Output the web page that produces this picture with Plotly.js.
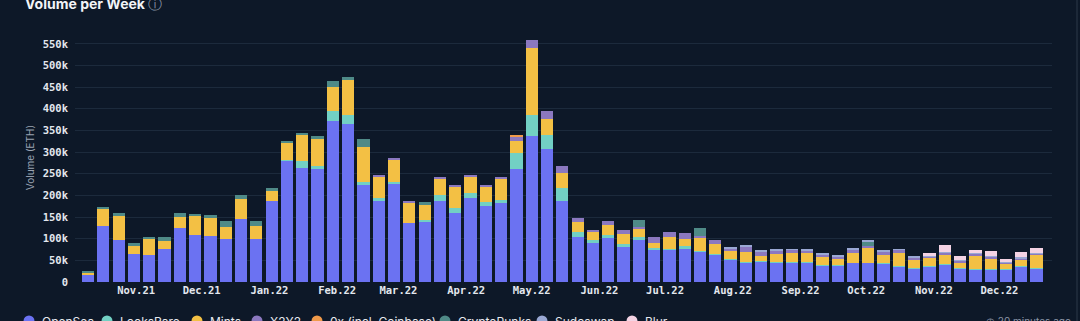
<!DOCTYPE html>
<html><head><meta charset="utf-8">
<script src="https://cdn.plot.ly/plotly-3.0.1.min.js"></script>
<style>html,body{margin:0;padding:0;background:#0d1828;}#chart{width:1080px;height:321px;}</style>
</head><body><div id="chart"></div>
<script>
const weeks = ['2021-10-10','2021-10-17','2021-10-24','2021-10-31','2021-11-07','2021-11-14','2021-11-21','2021-11-28','2021-12-05','2021-12-12',
'2021-12-19','2021-12-26','2022-01-02','2022-01-09','2022-01-16','2022-01-23','2022-01-30','2022-02-06','2022-02-13','2022-02-20',
'2022-02-27','2022-03-06','2022-03-13','2022-03-20','2022-03-27','2022-04-03','2022-04-10','2022-04-17','2022-04-24','2022-05-01',
'2022-05-08','2022-05-15','2022-05-22','2022-05-29','2022-06-05','2022-06-12','2022-06-19','2022-06-26','2022-07-03','2022-07-10',
'2022-07-17','2022-07-24','2022-07-31','2022-08-07','2022-08-14','2022-08-21','2022-08-28','2022-09-04','2022-09-11','2022-09-18',
'2022-09-25','2022-10-02','2022-10-09','2022-10-16','2022-10-23','2022-10-30','2022-11-06','2022-11-13','2022-11-20','2022-11-27',
'2022-12-04','2022-12-11','2022-12-18'];

const openSea = [17000,130000,96000,65000,62000,77000,124000,109000,107000,100000,
146000,100000,186000,280000,264000,261000,371000,364000,225000,187000,
228000,137000,138000,187000,160000,193000,175000,182000,262000,337000,
306000,188000,105000,89000,102000,81000,97000,74000,74000,77000,
70000,63000,51000,45000,47000,44000,45000,45000,38000,38000,
44000,44000,42000,36000,32000,35000,40000,32000,30000,30000,
30000,35000,32000];
const looksRare = [0,0,0,0,0,0,0,0,0,0,
0,0,0,2000,15000,7000,24000,21000,6000,6000,
3000,0,5000,13000,11000,13000,10000,7000,36000,48000,
33000,28000,11000,8000,6000,6000,6000,4000,2000,5000,
2000,2000,2000,2000,2000,2000,1000,1000,1000,1000,
1000,1000,1000,1000,1000,1000,1000,1000,1000,1000,
1000,1000,1000];
const mints = [5000,38000,57000,19000,37000,17000,27000,45000,41000,28000,
46000,30000,23000,40000,61000,63000,56000,82000,80000,50000,
52000,46000,35000,37000,50000,37000,35000,49000,28000,156000,
38000,36000,23000,19000,23000,24000,20000,12000,27000,17000,
29000,23000,19000,23000,12000,19000,22000,20000,20000,14000,
21000,35000,19000,31000,17000,20000,23000,13000,31000,24000,
12000,16000,31000];
const x2y2 = [0,0,0,0,0,0,0,0,0,0,
0,0,0,0,0,0,0,0,0,2000,
4000,2000,0,6000,3000,4000,4000,5000,11000,19000,
19000,16000,8000,5000,10000,9000,5000,13000,12000,14000,
6000,9000,6000,12000,10000,7000,6000,6000,4000,6000,
9000,3000,8000,6000,6000,4000,4000,3000,3000,4000,
2000,3000,2000];
const zeroX = [0,0,0,0,0,0,0,0,0,0,
0,0,0,0,0,0,0,0,0,0,
0,0,0,0,0,0,0,0,3000,0,
0,0,0,0,0,0,0,0,0,0,
0,0,0,0,0,0,0,0,0,0,
0,0,0,0,0,0,0,0,0,0,
0,0,0];
const cryptoPunks = [2000,5000,6000,7000,6000,9000,8000,3000,6000,12000,
9000,10000,9000,4000,5000,6000,13000,6000,19000,0,
0,0,6000,0,0,0,0,0,0,0,
0,0,0,0,0,0,15000,0,0,0,
18000,0,0,0,0,0,0,0,0,0,
0,10000,0,0,0,0,0,0,0,0,
0,0,0];
const sudoswap = [0,0,0,0,0,0,0,0,0,0,
0,0,0,0,0,0,0,0,0,0,
0,0,0,0,0,0,0,0,0,0,
0,0,0,0,0,0,0,0,0,0,
0,0,2000,2000,2000,2000,2000,2000,2000,2000,
2000,2000,2000,2000,2000,2000,2000,2000,2000,2000,
2000,2000,2000];
const blur = [0,0,0,0,0,0,0,0,0,0,
0,0,0,0,0,0,0,0,0,0,
0,0,0,0,0,0,0,0,0,0,
0,0,0,0,0,0,0,0,0,0,
0,0,0,0,0,0,0,0,0,0,
0,0,0,0,0,4000,15000,8000,8000,10000,
7000,13000,10000];

const seriesNames = ['OpenSea','LooksRare','Mints','X2Y2','0x (incl. Coinbase)','CryptoPunks','Sudoswap','Blur'];
const seriesColors = ['#6b72f2','#72d0c4','#f3c044','#8b78bf','#f09a4a','#4f8a87','#9aa8d4','#f4d3e4'];
const seriesValues = [openSea, looksRare, mints, x2y2, zeroX, cryptoPunks, sudoswap, blur];

// plot frame in pixels (layout only)
const M = {l:75, r:28, t:33, b:39};
const plotW = 1080 - M.l - M.r, plotH = 321 - M.t - M.b;
const px2x = px => (px - M.l) / plotW;
const px2y = py => (321 - M.b - py) / plotH;

const traces = seriesNames.map((name, i) => ({
  type:'bar', x:weeks, y:seriesValues[i], name:name, showlegend:false,
  marker:{color:seriesColors[i], line:{width:0}}, hoverinfo:'x+y+name'
}));

// custom legend (circle + label), positions are layout only
const legendCirclePx = [29,107,197,257,317,445,542,632];
const legendRowPx = 321;
const shapes = [{type:'line', xref:'paper', yref:'paper', x0:px2x(1077), x1:px2x(1077), y0:px2y(321), y1:px2y(0), line:{color:'#2c3848', width:1}}];
const annotations = [];
seriesNames.forEach((name, i) => {
  shapes.push({type:'circle', xref:'paper', yref:'paper', xsizemode:'pixel', ysizemode:'pixel',
    xanchor:px2x(legendCirclePx[i]), yanchor:px2y(legendRowPx), x0:-5.5, x1:5.5, y0:-5.5, y1:5.5,
    fillcolor:seriesColors[i], line:{width:0}});
  annotations.push({text:name, xref:'paper', yref:'paper', x:px2x(legendCirclePx[i] + 11), xanchor:'left',
    y:px2y(legendRowPx), yanchor:'middle', showarrow:false,
    font:{family:'Inter', size:12, color:'#e6e9ef'}});
});
annotations.push({text:'◷ 20 minutes ago', xref:'paper', yref:'paper', x:px2x(1073), xanchor:'right',
  y:px2y(legendRowPx), yanchor:'middle', showarrow:false, font:{family:'Inter', size:10, color:'#8b95a7'}});

const tickFont = {family:'DejaVu Sans Mono', size:10.5, color:'#e3e7ee', weight:700};
const layout = {
  width:1080, height:321,
  paper_bgcolor:'#0d1828', plot_bgcolor:'#0d1828',
  margin:{l:M.l, r:M.r, t:M.t, b:M.b, autoexpand:false},
  barmode:'stack', bargap:0.2, showlegend:false,
  title:{text:'Volume per Week <span style="color:#8b95a7;font-weight:400;font-size:14px">ⓘ</span>',
    x:25/1080, xanchor:'left', xref:'container', y:0.988, yref:'container', yanchor:'middle',
    font:{family:'Inter', size:14, weight:700, color:'#f2f4f7'}},
  xaxis:{type:'date', range:['2021-10-04 01:00','2022-12-25 01:00'], tick0:'2021-11-01', dtick:'M1',
    tickformat:'%b.%y', showgrid:false, zeroline:false, ticks:'', showline:false, tickfont:tickFont, fixedrange:true},
  yaxis:{range:[0,575000], dtick:50000, tickformat:'~s', gridcolor:'#1c2a3c', gridwidth:1, zeroline:false,
    ticks:'', ticklabelstandoff:6, tickfont:tickFont, fixedrange:true,
    title:{text:'Volume (ETH)', standoff:6, font:{family:'Inter', size:10, color:'#9aa3b2'}}},
  annotations:annotations,
  shapes:shapes
};
Plotly.newPlot('chart', traces, layout, {displayModeBar:false, responsive:false});
</script>
</body></html>
